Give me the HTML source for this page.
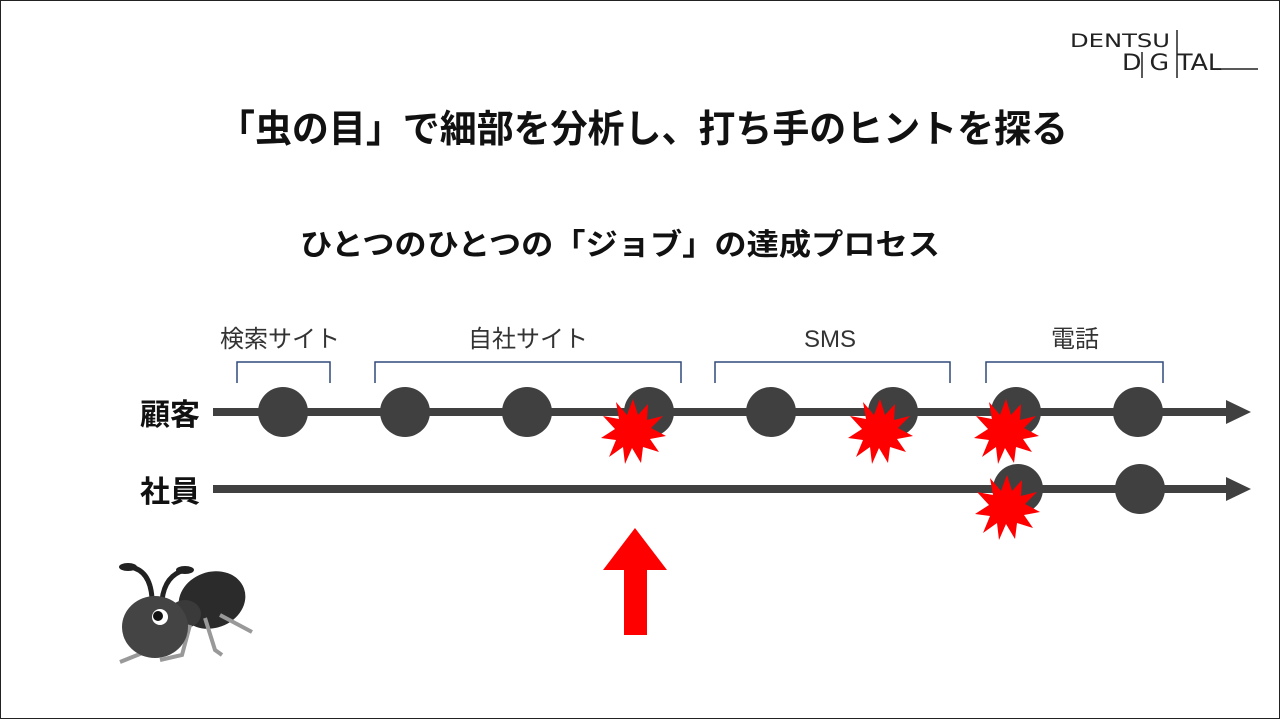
<!DOCTYPE html>
<html><head><meta charset="utf-8"><style>
html,body{margin:0;padding:0;background:#fff}
svg{display:block}
text{font-family:"Liberation Sans","Noto Sans CJK JP",sans-serif}
</style></head><body>
<svg width="1280" height="719" viewBox="0 0 1280 719" xmlns="http://www.w3.org/2000/svg">
<rect x="0.5" y="0.5" width="1279" height="718" fill="#fff" stroke="#222" stroke-width="1"/>
<text x="1070" y="47" font-size="19" fill="#222" textLength="100" lengthAdjust="spacingAndGlyphs" style="font-family:'DejaVu Sans',sans-serif">DENTSU</text>
<text x="1122" y="70" font-size="22" fill="#222" textLength="100" lengthAdjust="spacingAndGlyphs" style="font-family:'DejaVu Sans',sans-serif">D G TAL</text>
<line x1="1142" y1="52" x2="1142" y2="78" stroke="#222" stroke-width="1.5"/>
<line x1="1177" y1="30" x2="1177" y2="78" stroke="#222" stroke-width="1.5"/>
<line x1="1222" y1="69" x2="1258" y2="69" stroke="#222" stroke-width="1.5"/>
<text x="218" y="142" font-size="38" font-weight="bold" fill="#111" textLength="850" lengthAdjust="spacingAndGlyphs">「虫の目」で細部を分析し、打ち手のヒントを探る</text>
<text x="300" y="255" font-size="30" font-weight="bold" fill="#111" textLength="640" lengthAdjust="spacingAndGlyphs">ひとつのひとつの「ジョブ」の達成プロセス</text>
<g font-size="24" fill="#333" text-anchor="middle">
<text x="280" y="347">検索サイト</text>
<text x="528" y="347">自社サイト</text>
<text x="830" y="347">SMS</text>
<text x="1075" y="347">電話</text>
</g>
<g fill="none" stroke="#2f4a7a" stroke-width="1.5">
<path d="M237 383V362H330V383"/>
<path d="M375 383V362H681V383"/>
<path d="M715 383V362H950V383"/>
<path d="M986 383V362H1163V383"/>
</g>
<g font-size="30" font-weight="bold" fill="#111">
<text x="140" y="425">顧客</text>
<text x="140" y="502">社員</text>
</g>
<g fill="#404040">
<rect x="213" y="408" width="1017" height="8"/>
<polygon points="1226,400 1251,412 1226,424"/>
<rect x="213" y="485" width="1017" height="8"/>
<polygon points="1226,477 1251,489 1226,501"/>
<circle cx="283" cy="412" r="25"/>
<circle cx="405" cy="412" r="25"/>
<circle cx="527" cy="412" r="25"/>
<circle cx="649" cy="412" r="25"/>
<circle cx="771" cy="412" r="25"/>
<circle cx="893" cy="412" r="25"/>
<circle cx="1016" cy="412" r="25"/>
<circle cx="1138" cy="412" r="25"/>
<circle cx="1018" cy="489" r="25"/>
<circle cx="1140" cy="489" r="25"/>
</g>
<defs>
<polygon id="b" points="0,-33 5,-17 15,-28 14,-12 30,-16 18,-4 33,4 17,7 26,20 10,15 8,31 -1,16 -8,32 -10,15 -24,25 -17,8 -32,6 -18,-3 -30,-16 -14,-13 -17,-30 -6,-17" fill="#ff0000"/>
</defs>
<use href="#b" x="633" y="432"/>
<use href="#b" x="880" y="432"/>
<use href="#b" x="1006" y="432"/>
<use href="#b" x="1007" y="508"/>
<polygon points="635,528 667,570 647,570 647,635 624,635 624,570 603,570" fill="#ff0000"/>
<g>
<path d="M130 567 Q150 570 152 598" stroke="#222" stroke-width="5" fill="none"/>
<path d="M185 570 Q165 575 162 600" stroke="#222" stroke-width="5" fill="none"/>
<ellipse cx="128" cy="567" rx="9" ry="4" fill="#222"/>
<ellipse cx="185" cy="570" rx="9" ry="4" fill="#222"/>
<ellipse cx="212" cy="600" rx="34" ry="28" fill="#2b2b2b" transform="rotate(-20 212 600)"/>
<ellipse cx="185" cy="614" rx="16" ry="14" fill="#3a3a3a"/>
<path d="M175 620 L150 650 L120 662 M190 625 L182 655 L160 660 M205 618 L215 650 L222 655 M220 615 L252 632" stroke="#999" stroke-width="4" fill="none"/>
<ellipse cx="155" cy="627" rx="33" ry="31" fill="#444"/>
<ellipse cx="160" cy="617" rx="8" ry="8" fill="#fff"/>
<circle cx="158" cy="616" r="5" fill="#111"/>
</g>
</svg>
</body></html>
